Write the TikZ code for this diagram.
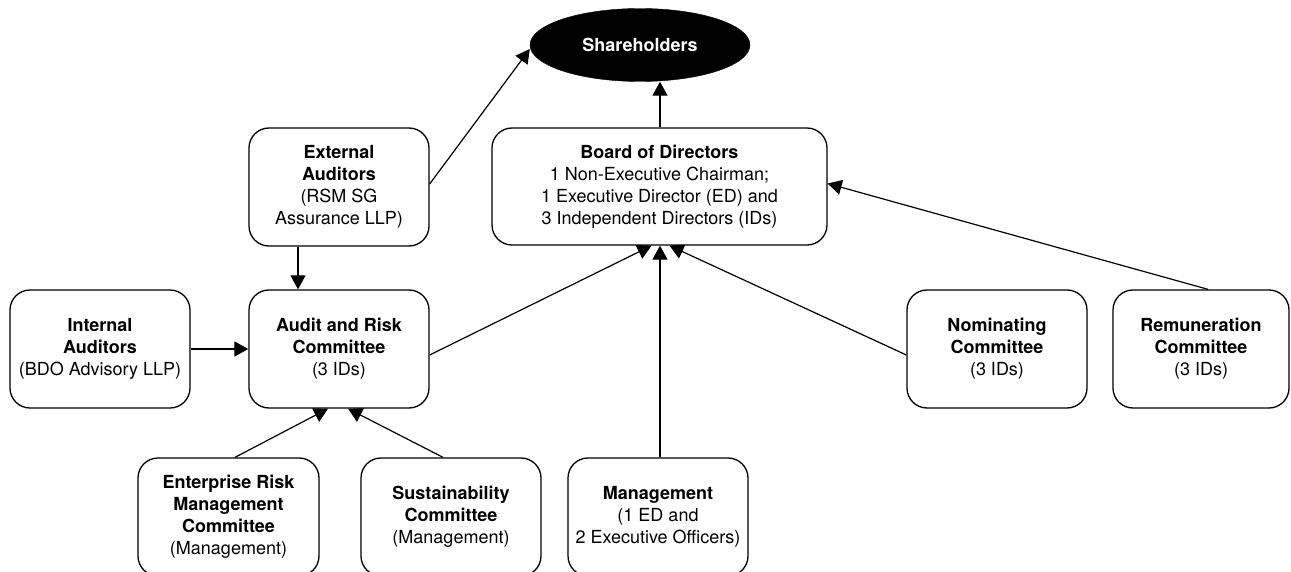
\documentclass[tikz,border=0pt]{standalone}
\usepackage{fontspec}
\setmainfont{TeX Gyre Heros}
\usetikzlibrary{shapes.geometric,arrows.meta}
\begin{document}
\begin{tikzpicture}[x=1pt,y=-1pt,
  box/.style={draw=black,line width=1.3pt,rounded corners=20pt,align=center,
    minimum width=180pt,minimum height=118pt,inner sep=0pt,
    font=\fontsize{18}{22}\selectfont},
  conn/.style={line width=1.2pt,-{Triangle[length=14pt,width=15pt]}}]
\useasboundingbox (0,0) rectangle (1291,572);
\node[ellipse,fill=black,draw=black,minimum width=220pt,minimum height=73pt,inner sep=0pt,
  text=white,font=\fontsize{18}{22}\selectfont\bfseries] (sh) at (640,45) {Shareholders};
\node[box,minimum width=335pt,minimum height=117pt] (board) at (659.5,186.5)
  {\textbf{Board of Directors}\\1 Non-Executive Chairman;\\1 Executive Director (ED) and\\3 Independent Directors (IDs)};
\node[box] (ext) at (339,187) {\textbf{External}\\\textbf{Auditors}\\(RSM SG\\Assurance LLP)};
\node[box] (int) at (100,349) {\textbf{Internal}\\\textbf{Auditors}\\(BDO Advisory LLP)};
\node[box] (arc) at (339,349) {\textbf{Audit and Risk}\\\textbf{Committee}\\(3 IDs)};
\node[box] (nom) at (997,349) {\textbf{Nominating}\\\textbf{Committee}\\(3 IDs)};
\node[box,minimum width=176pt] (rem) at (1201,349) {\textbf{Remuneration}\\\textbf{Committee}\\(3 IDs)};
\node[box,minimum width=181pt] (erm) at (228.5,517) {\textbf{Enterprise Risk}\\\textbf{Management}\\\textbf{Committee}\\(Management)};
\node[box] (sus) at (451,517) {\textbf{Sustainability}\\\textbf{Committee}\\(Management)};
\node[box] (mgmt) at (658,517) {\textbf{Management}\\(1 ED and\\2 Executive Officers)};
\draw[conn] ([yshift=3pt]ext.east) -- ([yshift=-4pt]sh.west);
\draw[conn] ([xshift=0.5pt]board.north) -- ([xshift=0.5pt]board.north |- sh.south);
\draw[conn] ([xshift=-41pt]ext.south) -- ([xshift=-41pt]arc.north);
\draw[conn] (int.east) -- (arc.west);
\draw[conn] ([yshift=-6pt]arc.east) -- ([xshift=-8pt]board.south);
\draw[conn] ([xshift=0.5pt]board.south |- mgmt.north) -- ([xshift=0.5pt]board.south);
\draw[conn] ([yshift=-6pt]nom.west) -- ([xshift=10pt]board.south);
\draw[conn] ([xshift=7pt]rem.north) -- ([yshift=3pt]board.east);
\draw[conn] ([xshift=6.5pt]erm.north) -- ([xshift=-11pt]arc.south);
\draw[conn] ([xshift=-8pt]sus.north) -- ([xshift=9pt]arc.south);
\end{tikzpicture}
\end{document}
